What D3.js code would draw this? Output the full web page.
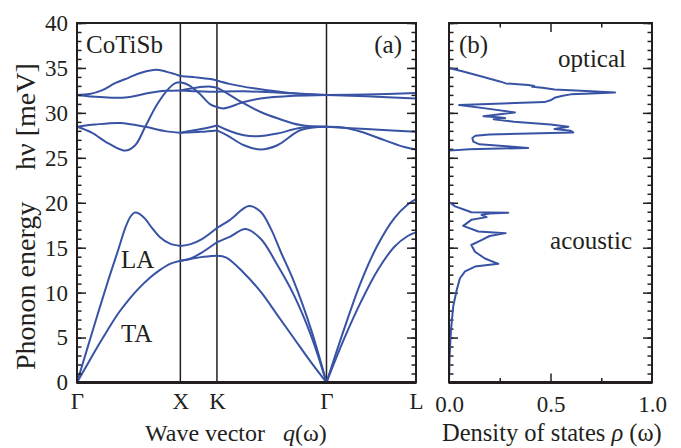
<!DOCTYPE html>
<html>
<head>
<meta charset="utf-8">
<script src="https://cdn.jsdelivr.net/npm/d3@7"></script>
<style>
  body { margin: 0; background: #fff; }
  text { font-family: "Liberation Serif", "Times New Roman", serif; fill: #231f20; }
</style>
</head>
<body>
<div id="chart"></div>
<script>
// high symmetry points along the path (units of 2pi/a)
var symLabels = ["Γ", "X", "K", "Γ", "L"];
var symPos = [0, 1, 1.354, 2.414, 3.28];

// acoustic branches, [q, energy meV], one array per path segment
var acousticGX = [
  [[0,0],[0.1,3.8],[0.2,7.6],[0.3,11.3],[0.4,14.8],[0.47,17.3],[0.52,18.5],[0.557,18.9],[0.6,18.8],[0.66,18.2],[0.725,17.2],[0.8,16.2],[0.9,15.45],[1,15.2]],
  [[0,0],[0.1,2.0],[0.2,4.0],[0.3,5.9],[0.4,7.7],[0.5,9.2],[0.6,10.5],[0.7,11.6],[0.8,12.5],[0.9,13.2],[1,13.55]]
];
var acousticXK = [
  [[1,15.2],[1.1,15.4],[1.2,15.9],[1.354,17.2]],
  [[1,13.55],[1.1,13.8],[1.2,14.4],[1.354,15.6]],
  [[1,13.55],[1.1,13.75],[1.2,13.95],[1.354,14.1]]
];
var acousticKG = [
  [[1.354,17.2],[1.477,18.07],[1.663,19.63],[1.777,19.0],[1.874,17.15],[1.971,14.55],[2.1,11.2],[2.262,6.0],[2.414,0]],
  [[1.354,15.6],[1.477,16.2],[1.631,17.07],[1.777,16.0],[1.939,13.07],[2.1,9.7],[2.262,5.3],[2.414,0]],
  [[1.354,14.1],[1.445,13.9],[1.605,12.3],[1.777,10.1],[1.939,7.5],[2.1,4.9],[2.262,2.3],[2.414,0]]
];
var acousticGL = [
  [[2.414,0],[2.586,6.0],[2.748,11.2],[2.909,15.3],[3.071,18.3],[3.2,19.8],[3.28,20.4]],
  [[2.414,0],[2.586,4.9],[2.748,9.0],[2.909,12.5],[3.071,15.1],[3.2,16.3],[3.28,16.7]]
];

// optical branches
var opticalGX = [
  [[0,32.0],[0.123,32.1],[0.24,32.5],[0.369,33.3],[0.498,33.9],[0.628,34.5],[0.773,34.8],[0.919,34.4],[1,34.1]],
  [[0,32.0],[0.223,31.76],[0.466,31.7],[0.692,32.2],[0.854,32.45],[1,32.5]],
  [[0,28.45],[0.175,28.7],[0.417,28.87],[0.66,28.45],[0.854,27.97],[1,27.8]],
  [[0,28.45],[0.142,27.8],[0.304,26.6],[0.466,25.8],[0.563,26.4],[0.66,28.45],[0.773,30.9],[0.887,32.7],[0.951,33.3],[1,33.4]]
];
var opticalXK = [
  [[1,34.1],[1.15,33.95],[1.29,33.76],[1.354,33.6]],
  [[1,33.4],[1.08,33.1],[1.18,32.2],[1.29,30.94],[1.354,30.65]],
  [[1,32.5],[1.15,32.8],[1.29,32.92],[1.354,32.8]],
  [[1,32.5],[1.15,32.4],[1.29,32.35],[1.354,32.35]],
  [[1,27.8],[1.2,28.2],[1.354,28.6]],
  [[1,27.8],[1.2,27.9],[1.354,28.05]]
];
var opticalKG = [
  [[1.354,33.6],[1.485,33.2],[1.712,32.73],[2.1,32.17],[2.414,32.0]],
  [[1.354,32.8],[1.453,32.17],[1.615,31.05],[1.777,30.1],[1.939,29.4],[2.165,28.64],[2.414,28.45]],
  [[1.354,32.35],[1.615,32.4],[2.1,32.17],[2.414,32.0]],
  [[1.354,30.65],[1.417,30.5],[1.615,31.2],[1.777,31.6],[2.1,31.9],[2.414,32.0]],
  [[1.354,28.6],[1.453,28.09],[1.615,27.5],[1.744,27.4],[1.939,27.7],[2.165,28.35],[2.414,28.45]],
  [[1.354,28.05],[1.453,27.5],[1.615,26.4],[1.777,25.93],[1.939,26.4],[2.165,28.09],[2.414,28.45]]
];
var opticalGL = [
  [[2.414,32.0],[2.8,32.05],[3.28,32.2]],
  [[2.414,32.0],[2.8,31.85],[3.28,31.6]],
  [[2.414,28.45],[2.8,28.2],[3.28,27.9]],
  [[2.414,28.45],[2.586,28.35],[2.748,27.9],[2.974,26.97],[3.168,26.2],[3.28,25.93]]
];

// density of states, [energy meV, rho]
var dosOptical = [
  [35.0,0],[34.6,0.07],[34.0,0.17],[33.5,0.25],[33.28,0.28],[33.1,0.39],[33.0,0.42],[32.9,0.41],[32.8,0.46],
  [32.6,0.52],[32.4,0.7],[32.28,0.818],[32.15,0.7],[32.06,0.6],[31.9,0.56],[31.68,0.52],[31.4,0.5],[31.2,0.47],
  [30.87,0.05],[30.5,0.18],[30.05,0.325],[29.63,0.17],[29.5,0.24],[29.42,0.276],[29.3,0.22],[29.0,0.32],
  [28.7,0.5],[28.46,0.588],[28.2,0.52],[28.0,0.6],[27.83,0.612],[27.6,0.2],[27.45,0.13],[27.2,0.115],
  [26.8,0.12],[26.5,0.15],[26.25,0.3],[26.1,0.39],[25.95,0.1],[25.8,0]
];
var dosAcoustic = [
  [20.1,0],[19.6,0.03],[19.19,0.08],[18.95,0.11],[18.9,0.292],[18.8,0.2],[18.65,0.16],[18.4,0.185],
  [18.1,0.11],[17.43,0.07],[16.8,0.145],[16.62,0.279],[16.3,0.2],[15.85,0.16],[15.3,0.11],[14.55,0.128],
  [13.8,0.177],[13.2,0.243],[12.9,0.128],[12.36,0.079],[11.6,0.054],[10.3,0.038],[8.5,0.021],
  [5.9,0.01],[3.0,0.003],[0,0]
];

var yTicks = [0, 5, 10, 15, 20, 25, 30, 35, 40];
var dosTicks = [0, 0.5, 1.0];

var W = 681, H = 448;
var blue = "#3953a4";

var svg = d3.select("#chart").append("svg")
  .attr("width", W).attr("height", H);

var x = d3.scaleLinear().domain([0, 3.28]).range([77, 416]);
var y = d3.scaleLinear().domain([0, 40]).range([382.5, 23]);
var xd = d3.scaleLinear().domain([0, 1]).range([449, 652]);

// ---------- panel (a) ----------
var gA = svg.append("g");

// symmetry point verticals
gA.selectAll(".sym")
  .data(symPos.slice(1, 4))
  .enter().append("line")
  .attr("x1", d => x(d)).attr("x2", d => x(d))
  .attr("y1", y(40)).attr("y2", y(0))
  .attr("stroke", "#231f20").attr("stroke-width", 1.5);

var line = d3.line()
  .x(d => x(d[0])).y(d => y(d[1]))
  .curve(d3.curveCatmullRom.alpha(0.5));

var branches = [].concat(acousticGX, acousticXK, acousticKG, acousticGL,
                         opticalGX, opticalXK, opticalKG, opticalGL);
gA.selectAll(".branch")
  .data(branches)
  .enter().append("path")
  .attr("d", line)
  .attr("fill", "none")
  .attr("stroke", blue)
  .attr("stroke-width", 2)
  .attr("stroke-linecap", "round");

// energy axes: minor + major ticks, inward on both sides
function yAxes(g, x0, x1, labels) {
  var minor = d3.range(0, 41, 1);
  g.append("g").attr("transform", "translate(" + x0 + ",0)")
    .call(d3.axisLeft(y).tickValues(minor).tickSize(-4.5).tickFormat(""));
  g.append("g").attr("transform", "translate(" + x1 + ",0)")
    .call(d3.axisRight(y).tickValues(minor).tickSize(-4.5).tickFormat(""));
  var left = g.append("g").attr("transform", "translate(" + x0 + ",0)")
    .call(d3.axisLeft(y).tickValues(yTicks).tickSize(-9).tickPadding(9)
      .tickFormat(labels ? d3.format("d") : ""));
  g.append("g").attr("transform", "translate(" + x1 + ",0)")
    .call(d3.axisRight(y).tickValues(yTicks).tickSize(-9).tickFormat(""));
  g.selectAll(".domain").remove();
  g.selectAll(".tick line").attr("stroke", "#231f20").attr("stroke-width", 1.5);
  left.selectAll("text").attr("font-size", 23).attr("fill", "#231f20")
    .style("font-family", "Liberation Serif");
}
yAxes(gA, x(0), x(3.28), true);

// path labels
var qAxis = gA.append("g").attr("transform", "translate(0," + y(0) + ")")
  .call(d3.axisBottom(x).tickValues(symPos).tickSize(0).tickPadding(10)
    .tickFormat((d, i) => symLabels[i]));
qAxis.select(".domain").remove();
qAxis.selectAll("text").attr("font-size", 23).attr("fill", "#231f20")
  .style("font-family", "Liberation Serif");

// frame
gA.append("rect")
  .attr("x", x(0)).attr("y", y(40))
  .attr("width", x(3.28) - x(0)).attr("height", y(0) - y(40))
  .attr("fill", "none").attr("stroke", "#231f20").attr("stroke-width", 2);
gA.append("line")
  .attr("x1", x(0)).attr("x2", x(3.28)).attr("y1", y(0)).attr("y2", y(0))
  .attr("stroke", "#231f20").attr("stroke-width", 3);

gA.append("text").attr("x", 86).attr("y", 53).attr("font-size", 25).text("CoTiSb");
gA.append("text").attr("x", 402).attr("y", 53).attr("font-size", 25)
  .attr("text-anchor", "end").text("(a)");
gA.append("text").attr("x", 121).attr("y", 268).attr("font-size", 25).text("LA");
gA.append("text").attr("x", 121).attr("y", 342).attr("font-size", 25).text("TA");

// ---------- panel (b) ----------
var gB = svg.append("g");

yAxes(gB, xd(0), xd(1), false);

gB.append("g").attr("transform", "translate(0," + y(40) + ")")
  .call(d3.axisTop(xd).tickValues([0.25, 0.75]).tickSize(-4.5).tickFormat(""));
gB.append("g").attr("transform", "translate(0," + y(40) + ")")
  .call(d3.axisTop(xd).tickValues([0.5]).tickSize(-9).tickFormat(""));
gB.append("g").attr("transform", "translate(0," + y(0) + ")")
  .call(d3.axisBottom(xd).tickValues([0.25, 0.75]).tickSize(-4.5).tickFormat(""));
gB.append("g").attr("transform", "translate(0," + y(0) + ")")
  .call(d3.axisBottom(xd).tickValues([0.5]).tickSize(-9).tickFormat(""));
var dosLab = gB.append("g").attr("transform", "translate(0," + y(0) + ")")
  .call(d3.axisBottom(xd).tickValues(dosTicks).tickSize(0).tickPadding(13)
    .tickFormat(d3.format(".1f")));
gB.selectAll(".domain").remove();
gB.selectAll(".tick line").attr("stroke", "#231f20").attr("stroke-width", 1.5);
dosLab.selectAll("text").attr("font-size", 23).attr("fill", "#231f20")
  .style("font-family", "Liberation Serif");

var dosLine = d3.line()
  .x(d => xd(d[1])).y(d => y(d[0]));
gB.append("path")
  .datum(dosOptical.concat(dosAcoustic))
  .attr("d", dosLine)
  .attr("fill", "none")
  .attr("stroke", blue)
  .attr("stroke-width", 2)
  .attr("stroke-linejoin", "round");

gB.append("rect")
  .attr("x", xd(0)).attr("y", y(40))
  .attr("width", xd(1) - xd(0)).attr("height", y(0) - y(40))
  .attr("fill", "none").attr("stroke", "#231f20").attr("stroke-width", 2);
gB.append("line")
  .attr("x1", xd(0)).attr("x2", xd(1)).attr("y1", y(0)).attr("y2", y(0))
  .attr("stroke", "#231f20").attr("stroke-width", 3);

gB.append("text").attr("x", 459).attr("y", 53).attr("font-size", 25).text("(b)");
gB.append("text").attr("x", 626).attr("y", 67).attr("font-size", 25)
  .attr("text-anchor", "end").text("optical");
gB.append("text").attr("x", 632).attr("y", 249).attr("font-size", 25)
  .attr("text-anchor", "end").text("acoustic");

// ---------- axis titles ----------
var xt = svg.append("text").attr("x", 145).attr("y", 441).attr("font-size", 24);
xt.append("tspan").text("Wave vector");
xt.append("tspan").attr("dx", 18).attr("font-style", "italic").text("q");
xt.append("tspan").text("(ω)");

var dt = svg.append("text").attr("x", 442).attr("y", 441).attr("font-size", 24.5);
dt.append("tspan").text("Density of states ");
dt.append("tspan").attr("font-style", "italic").text("ρ");
dt.append("tspan").text(" (ω)");

svg.append("text")
  .attr("transform", "translate(35,370) rotate(-90)")
  .attr("font-size", 28).text("Phonon energy");
svg.append("text")
  .attr("transform", "translate(35,170) rotate(-90)")
  .attr("font-size", 28).text("hν [meV]");
</script>
</body>
</html>
